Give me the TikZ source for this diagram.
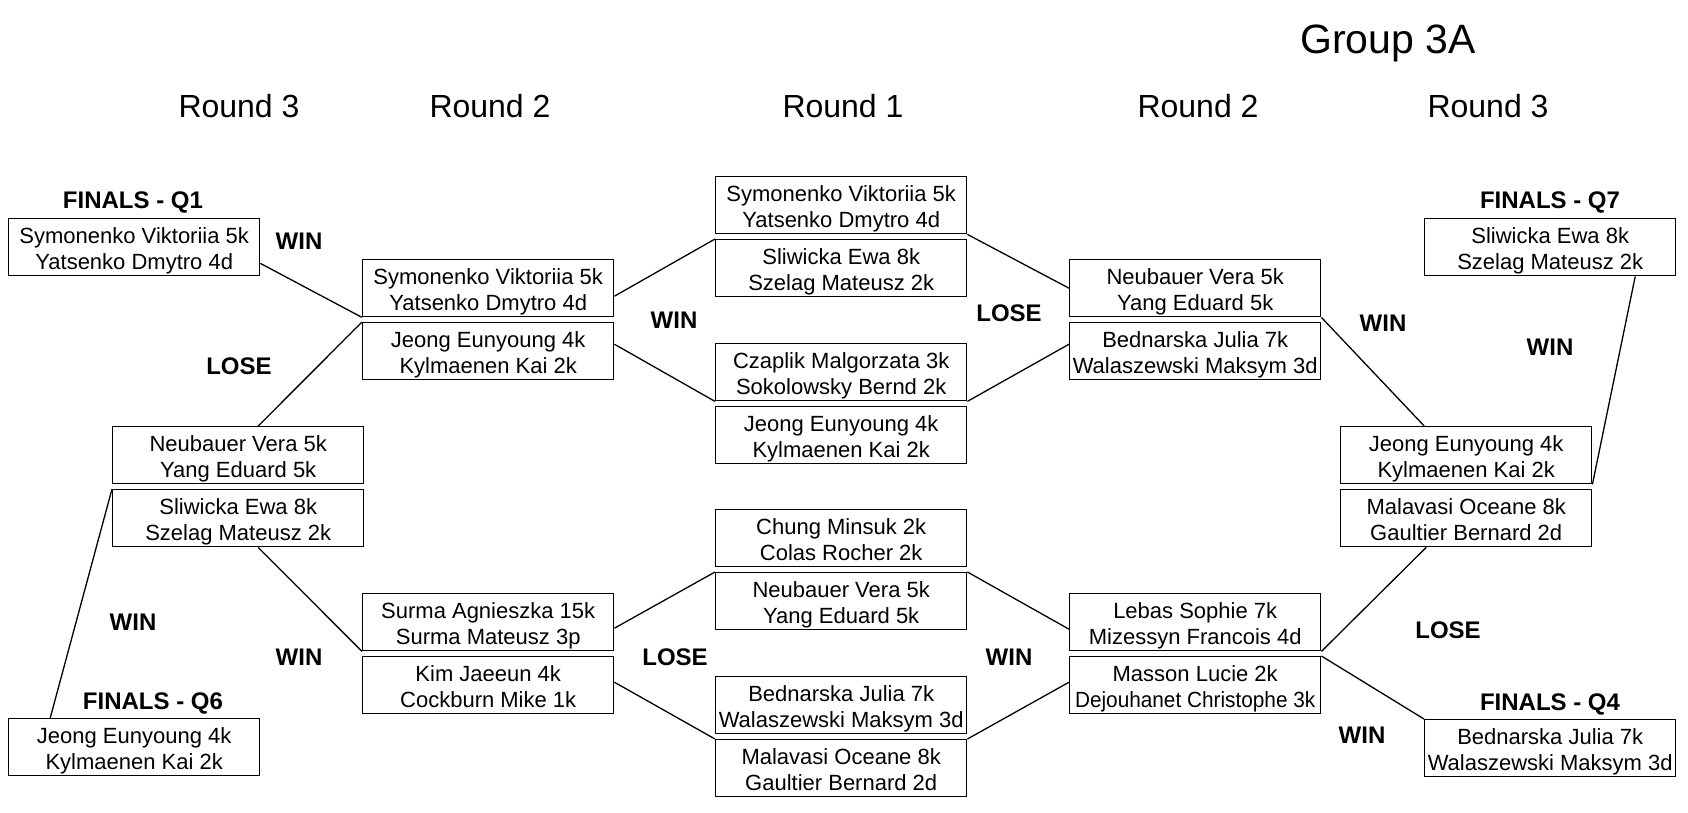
\documentclass[tikz,border=0pt]{standalone}
\usepackage{fontspec}
\setmainfont{Liberation Sans}
\usetikzlibrary{calc}
\newcommand\pair[2]{\raisebox{-4pt}[\height][\depth]{\begin{tabular}{@{}c@{}}#1\\#2\end{tabular}}}
\begin{document}
\begin{tikzpicture}[x=1pt,y=-1pt,
  team/.style={draw, line width=1.4pt, minimum width=251pt, minimum height=57pt, inner sep=0pt, anchor=north west, font=\fontsize{22}{26}\selectfont},
  res/.style={font=\fontsize{24}{28}\selectfont\bfseries, inner sep=0pt},
  head/.style={font=\fontsize{32}{36}\selectfont, anchor=base, inner sep=0pt},
  link/.style={line width=1.3pt}]
\useasboundingbox (0,0) rectangle (1688,812);

% titles
\node[font=\fontsize{41}{46}\selectfont, anchor=base, inner sep=0pt] (title) at (1388,53) {Group 3A};
\node[head] (h1) at (239,117) {Round 3};
\node[head] (h2) at (490,117) {Round 2};
\node[head] (h3) at (843,117) {Round 1};
\node[head] (h4) at (1198,117) {Round 2};
\node[head] (h5) at (1488,117) {Round 3};

% left side
\node[team] (q1) at (8,218) {\pair{Symonenko Viktoriia 5k}{Yatsenko Dmytro 4d}};
\node[team] (l2a) at (362,259) {\pair{Symonenko Viktoriia 5k}{Yatsenko Dmytro 4d}};
\node[team] (l2b) at (362,322) {\pair{Jeong Eunyoung 4k}{Kylmaenen Kai 2k}};
\node[team] (l3a) at (112,426) {\pair{Neubauer Vera 5k}{Yang Eduard 5k}};
\node[team] (l3b) at (112,489) {\pair{Sliwicka Ewa 8k}{Szelag Mateusz 2k}};
\node[team] (q6) at (8,718) {\pair{Jeong Eunyoung 4k}{Kylmaenen Kai 2k}};
\node[team] (l2c) at (362,593) {\pair{Surma Agnieszka 15k}{Surma Mateusz 3p}};
\node[team] (l2d) at (362,656) {\pair{Kim Jaeeun 4k}{Cockburn Mike 1k}};

% round 1
\node[team] (r1a) at (715,176) {\pair{Symonenko Viktoriia 5k}{Yatsenko Dmytro 4d}};
\node[team] (r1b) at (715,239) {\pair{Sliwicka Ewa 8k}{Szelag Mateusz 2k}};
\node[team] (r1c) at (715,343) {\pair{Czaplik Malgorzata 3k}{Sokolowsky Bernd 2k}};
\node[team] (r1d) at (715,406) {\pair{Jeong Eunyoung 4k}{Kylmaenen Kai 2k}};
\node[team] (r1e) at (715,509) {\pair{Chung Minsuk 2k}{Colas Rocher 2k}};
\node[team] (r1f) at (715,572) {\pair{Neubauer Vera 5k}{Yang Eduard 5k}};
\node[team] (r1g) at (715,676) {\pair{Bednarska Julia 7k}{Walaszewski Maksym 3d}};
\node[team] (r1h) at (715,739) {\pair{Malavasi Oceane 8k}{Gaultier Bernard 2d}};

% right side
\node[team] (r2a) at (1069,259) {\pair{Neubauer Vera 5k}{Yang Eduard 5k}};
\node[team] (r2b) at (1069,322) {\pair{Bednarska Julia 7k}{Walaszewski Maksym 3d}};
\node[team] (r2c) at (1069,593) {\pair{Lebas Sophie 7k}{Mizessyn Francois 4d}};
\node[team] (r2d) at (1069,656) {\pair{Masson Lucie 2k}{\scalebox{0.945}[1]{Dejouhanet Christophe 3k}}};
\node[team] (r3a) at (1340,426) {\pair{Jeong Eunyoung 4k}{Kylmaenen Kai 2k}};
\node[team] (r3b) at (1340,489) {\pair{Malavasi Oceane 8k}{Gaultier Bernard 2d}};
\node[team] (q7) at (1424,218) {\pair{Sliwicka Ewa 8k}{Szelag Mateusz 2k}};
\node[team] (q4) at (1424,719) {\pair{Bednarska Julia 7k}{Walaszewski Maksym 3d}};

% result labels
\node[res] (fq1) at (133,202) {FINALS - Q1};
\node[res] (fq6) at (153,703) {FINALS - Q6};
\node[res] (fq7) at (1550,202) {FINALS - Q7};
\node[res] (fq4) at (1550,704) {FINALS - Q4};
\node[res] (w1) at (299,241) {WIN};
\node[res] (x1) at (239,366) {LOSE};
\node[res] (w2) at (133,622) {WIN};
\node[res] (w3) at (299,657) {WIN};
\node[res] (w4) at (674,320) {WIN};
\node[res] (x2) at (675,657) {LOSE};
\node[res] (x3) at (1009,313) {LOSE};
\node[res] (w5) at (1009,657) {WIN};
\node[res] (w6) at (1383,323) {WIN};
\node[res] (w7) at (1550,347) {WIN};
\node[res] (x4) at (1448,630) {LOSE};
\node[res] (w8) at (1362,735) {WIN};

% connectors
\draw[link] ($(q1.south east)+(0,-13)$) -- (l2a.south west);
\draw[link] ($(l3a.north)+(20,0)$) -- (l2b.north west);
\draw[link] ($(l2a.east)+(0,8)$) -- (r1b.north west);
\draw[link] ($(l2b.east)+(0,-7)$) -- (r1c.south west);
\draw[link] (r1a.south east) -- (r2a.west);
\draw[link] (r1c.south east) -- ($(r2b.west)+(0,-7)$);
\draw[link] (r2a.south east) -- ($(r3a.north)+(-42,0)$);
\draw[link] ($(q7.south)+(85,0)$) -- (r3a.south east);
\draw[link] (l3b.north west) -- ($(q6.north)+(-84,0)$);
\draw[link] ($(l3b.south)+(20,0)$) -- (l2c.south west);
\draw[link] ($(l2c.east)+(0,6)$) -- (r1f.north west);
\draw[link] ($(l2d.east)+(0,-3)$) -- (r1h.north west);
\draw[link] (r1f.north east) -- ($(r2c.west)+(0,7)$);
\draw[link] (r1h.north east) -- ($(r2d.west)+(0,-3)$);
\draw[link] (r2c.south east) -- ($(r3b.south)+(-40,0)$);
\draw[link] (r2d.north east) -- (q4.north west);
\end{tikzpicture}
\end{document}
